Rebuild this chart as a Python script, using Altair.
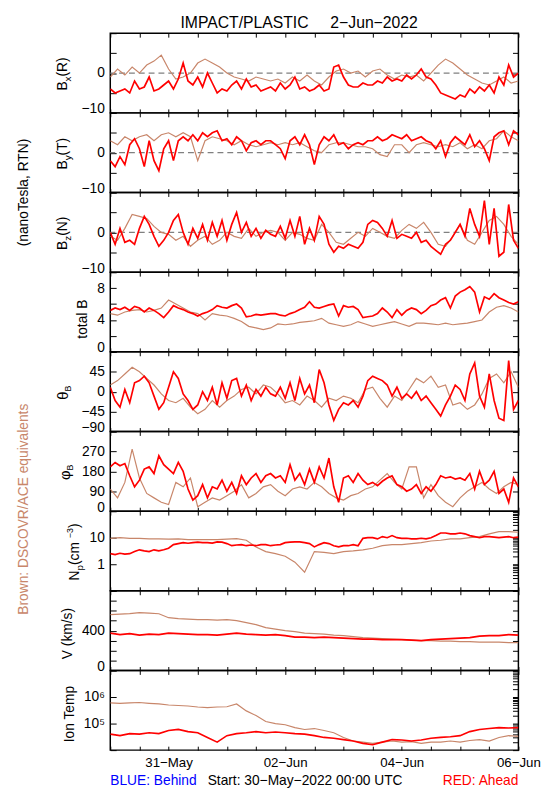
import altair as alt
import numpy as np
import pandas as pd

FONT = "Liberation Sans"
RED = "#ff0000"
BROWN = "#c8866a"
PW, PH = 415, 81

# ---------------- data ----------------
# red = STEREO-A (Ahead), 2-hour samples 30-May 00:00 .. 06-Jun 00:00
bx_red = [-4, -5, -4.5, -4, -5, -2, -4, -3.5, -1, -4.5, -4, -3, -2, -4, -1.5, 2.5, -2, -3, -1, -3.5,
          0, -2.5, -5, -4, -4.5, -3, -2, -4, -1.5, -3.5, -3, -4.5, -4, -3.5, -4.5, -2.5, -4, -3, -1, -4,
          -3.5, -4.5, -4, -3, -4.5, -4, 1.5, 2, -1, -3, -3.5, -3.5, -2.5, -3, -3, -2, -2.5, -1, -2, -1.5,
          -2, -0.5, -1.5, -0.5, 1, -1, -1.5, -3, -5, -5.5, -6, -6.5, -5.5, -6, -4, -5, -3.5, -4.5, -3, -5,
          -1, -3, 2, -1, 0]
by_red = [-2, -3.5, -1, -3, 2, 3.5, 1, -3.5, 3, -2, -4.5, 1, 3, -2, 3, 4, 3, 4.5, 3, 5,
          4, 5, 5.5, 3, 3.5, 2, 4, 3, 0.5, 2.5, 3, 2, 3, 3, 2, 1, -1.5, 3, 4, 2,
          4.5, 2, -3, 2, 4, 3, 4.5, 2, 2.5, 1, 2, 2.5, 2, 3, 3, 4, 3, 3.5, 4.5, 4,
          3.5, 4.5, 3, 3.5, 4, 3, 2.5, 1, 3, -1, 2.5, 4, 3, 2, 4.5, 1.5, 3, 1, -2, 4,
          5, 5.5, 2, 5.5, 4.5]
bz_red = [0, -3, 1, -2.5, -2, -3, 1, 4, 2, -1, -3.5, -2, 0, 3, 4.5, 0, -3, 1, -1.5, 2,
          -2, 2.5, -1, 3, -2, 2, 5, 0, 2.5, -1, 1, -1.5, 0.5, -0.5, -1, 1.5, -1.5, 3, -1, 4,
          -3, 1, -2, 4, 2, -3, -5, -3.5, -4, -3, -3.5, -4, -2.5, 2, 3, 2.5, 1, -1, 3, -1.5,
          -0.5, -1, -1.5, 0, -2.5, -2, -3.5, -4.5, -5.5, -3, -2, 0, 2, -1, 6, 2, -1, 8, -3, 6,
          -6, -5, 7, -2, -4]
bt_red = [5.2, 5.5, 5.3, 5.6, 5.2, 5.7, 5.5, 5.0, 5.5, 5.2, 4.8, 4.3, 5.0, 5.8, 5.5, 5.3, 5.0, 4.8, 4.5, 4.8,
          5.0, 5.3, 5.8, 5.6, 5.5, 5.8, 6.0, 5.5, 4.4, 4.5, 4.7, 4.6, 4.7, 4.8, 4.8, 4.6, 4.5, 4.8, 5.0, 5.3,
          5.6, 6.3, 5.6, 5.5, 5.7, 5.9, 6.0, 4.5, 5.8, 5.6, 5.7, 5.3, 4.3, 4.4, 4.5, 4.8, 5.5, 5.0, 4.3, 5.3,
          4.6, 5.2, 5.5, 5.3, 4.8, 5.2, 5.8, 6.0, 6.5, 6.8, 5.5, 7.0, 7.5, 7.8, 8.2, 7.5, 5.0, 6.9, 6.6, 7.3,
          6.8, 6.5, 6.2, 6.0, 6.3]
theta_red = [10, -20, -35, 5, -25, 20, 25, 35, 20, -10, -40, -25, 10, 45, 30, -5, -20, -40, -30, 0,
             -20, 10, -30, 20, -15, 25, 30, -10, 15, -20, 5, -10, 10, -5, -10, 10, -15, 20, -20, 30,
             -5, 15, -25, 50, 20, -30, -65, -40, -25, -30, -20, -35, -10, 25, 35, 30, 25, 15, -10, 10,
             -15, -5, -15, 0, -20, -10, -25, -40, -55, -30, -10, 15, 5, -20, 40, 65, -10, -35, 40, -20,
             -60, -65, 70, -40, -20]
phi_red = [200, 220, 205, 215, 160, 110, 140, 190, 200, 170, 250, 210, 190, 170, 220, 180, 100, 50, 70, 120,
           60, 110, 100, 140, 90, 130, 80, 160, 120, 150, 170, 130, 160, 170, 150, 160, 130, 210, 140, 170,
           120, 190, 130, 200, 150, 240, 110, 40, 150, 160, 130, 170, 140, 120, 130, 115, 135, 150, 160, 120,
           110, 90, 100, 120, 80, 110, 90, 120, 160, 150, 155, 145, 150, 140, 170, 100, 180, 120, 140, 180,
           80, 100, 40, 150, 110]
np_red = [2.5, 2.3, 2.6, 2.4, 2.5, 3.0, 3.5, 3.2, 3.0, 3.5, 3.2, 3.5, 4.0, 5.5, 6.0, 6.5, 6.2, 6.5, 6.8, 6.5,
          6.5, 6.3, 7.0, 6.8, 6.0, 5.0, 5.3, 5.5, 5.0, 5.3, 5.0, 5.5, 5.5, 5.0, 5.3, 5.5, 6.5, 6.8, 7.0, 7.0,
          6.5, 6.0, 4.5, 5.5, 6.5, 6.0, 5.0, 4.5, 5.0, 5.0, 5.5, 5.0, 9.5, 10, 10, 9.0, 11, 10, 12, 10,
          9.5, 9.5, 9.0, 9.0, 9.5, 9.0, 10, 12, 15, 15, 14, 14, 15, 14, 12, 11, 10, 11, 11, 10.5,
          10, 10.5, 11, 10, 10.5]
# red, 4-hour samples
v_red = [375, 360, 370, 355, 365, 360, 375, 370, 365, 360, 360, 355, 365, 375, 365, 360, 355, 360, 350, 335,
         335, 330, 335, 330, 325, 320, 315, 315, 310, 310, 310, 305, 300, 310, 315, 320, 325, 330, 345, 350,
         350, 360, 355]
t_red = [4.0e4, 3.5e4, 4.2e4, 4.0e4, 4.5e4, 4.2e4, 5.5e4, 6.0e4, 5.0e4, 4.5e4, 3.0e4, 2.0e4, 3.5e4, 4.2e4,
         4.5e4, 5.0e4, 4.5e4, 4.8e4, 4.5e4, 4.2e4, 4.0e4, 3.5e4, 3.0e4, 2.8e4, 2.5e4, 2.2e4, 1.8e4, 1.6e4,
         2.0e4, 2.5e4, 2.4e4, 2.2e4, 2.4e4, 2.8e4, 3.0e4, 3.2e4, 3.5e4, 5.0e4, 6.0e4, 6.5e4, 7.0e4, 6.8e4,
         7.0e4]

# brown = DSCOVR/ACE equivalents, 3-hour samples
bx_brown = [-1, 1, -0.5, 1.5, 0, 2, 3, 4.5, 1, -1.5, -1, 0, 2.5, 3.5, 2.5, 1.5, 0, -1, -1.5, -2,
            -1, -1.5, -2, -1.5, -2.5, -1, -2, -0.5, -2, -3, -1, 0.5, 1, 0, 0.5, -1, 0.5, 1, -0.5, -1.5,
            -0.5, -1, -0.5, -2, 0, 2, 3.5, 2.5, 1, -0.5, -1.5, -2.5, -3, -2, -1, -2.5, -2]
by_brown = [3, 2, 4, 3, 4, 4.5, 3, 4.5, 5, 4, 5, 4, -2, 3, 4, 3.5, 3, 2, 3, 2,
            1.5, 2, 2.5, 2, 2.5, 2, 2.5, 1.5, 0.5, 0, 2, 2.5, 2.5, 2, 1.5, 1.5, 1, -0.5, -1, 2,
            2, 0, 2, 2.5, 2, 1.5, 2, 1.5, 2.5, 1, 2, 1, 3, 3.5, 5.5, 4, 3]
bz_brown = [-1, -2, 1, 4.5, 4, 3.5, 1.5, 0, -0.5, -2, -1, -3.5, -2, -1, -3, -2, 0, -1, -1.5, 1,
            -1, 0, 0.5, 0, -2, 0, -0.5, -1.5, -2, 2, 0, -2.5, -3, -1.5, 0, -1, 1, 0, -1, -1.5,
            0.5, 2, 1, 2.5, 0, -3, -3.5, -1, 2, -2, -3, 0, 3, 4, 2, -1, -3]
bt_brown = [4.8, 4.6, 5.0, 5.2, 5.3, 5.0, 5.2, 5.5, 6.5, 6.0, 5.5, 5.0, 4.8, 4.0, 4.8, 4.6, 4.5, 4.2, 3.8, 3.2,
            3.0, 2.8, 3.0, 3.5, 3.4, 3.5, 3.7, 3.8, 3.9, 4.2, 3.6, 3.4, 3.2, 3.4, 3.8, 3.5, 3.2, 3.4, 3.6, 3.8,
            3.5, 3.2, 3.6, 3.6, 3.5, 3.4, 3.6, 3.4, 3.5, 3.6, 3.8, 4.0, 5.0, 5.6, 5.8, 5.5, 5.0]
theta_brown = [15, 25, 40, 55, 45, 30, 15, -5, -20, -25, -15, -35, -50, -40, -20, -35, -20, -10, 5, 10,
               -5, 15, 10, -5, -25, -20, -30, -10, -20, -35, -15, -20, -10, -15, -25, 5, 10, -15, -35, -10,
               -20, 5, 30, 20, 35, 10, 15, -30, -25, -40, -30, -5, 30, 40, 20, 45, 10]
phi_brown = [100, 60, 130, 280, 150, 80, 60, 40, 30, 130, 110, 150, 20, 40, 60, 50, 70, 90, 120, 60,
             80, 110, 120, 90, 70, 100, 110, 100, 130, 110, 80, 60, 50, 70, 80, 100, 110, 140, 170, 130,
             100, 200, 200, 60, 120, 70, 40, 20, 60, 90, 110, 130, 100, 80, 110, 130, 120]
# brown, 4-hour samples
np_brown = [9.5, 10, 9.5, 9.5, 9.0, 9.0, 8.8, 9.0, 8.5, 8.5, 8.5, 8.5, 8.8, 9.2, 8.0, 4.5, 3.0, 2.5, 2.0, 1.2,
            0.5, 3.0, 2.8, 2.5, 3.0, 3.2, 3.5, 4.0, 5.0, 5.5, 5.5, 6.0, 6.5, 7.5, 8.0, 9.0, 9.0, 10, 11, 14,
            17, 17, 16]
v_brown = [560, 565, 570, 580, 575, 570, 530, 520, 515, 510, 510, 505, 510, 500, 480, 460, 430, 415, 400, 390,
           375, 370, 365, 355, 350, 340, 330, 325, 320, 315, 310, 305, 300, 300, 295, 295, 290, 290, 285, 285,
           285, 280, 280]
t_brown = [6.0e5, 5.8e5, 6.0e5, 6.2e5, 5.8e5, 5.5e5, 5.0e5, 4.8e5, 4.6e5, 4.2e5, 4.0e5, 4.2e5, 4.3e5, 5.5e5,
           3.0e5, 2.0e5, 1.2e5, 1.0e5, 9.0e4, 7.0e4, 6.0e4, 6.5e4, 5.5e4, 4.5e4, 3.0e4, 2.2e4, 2.0e4, 1.8e4,
           2.0e4, 2.2e4, 2.0e4, 2.1e4, 1.8e4, 2.0e4, 2.0e4, 2.2e4, 2.0e4, 2.3e4, 2.5e4, 2.2e4, 3.0e4, 3.5e4,
           3.3e4]

# axis tick / label definitions
HOUR_TICKS = list(range(0, 169, 12))
DAY_LABELS = {24: "31−May", 72: "02−Jun", 120: "04−Jun", 168: "06−Jun"}
B_TICKS = [-10, -5, 0, 5, 10]
B_LABELS = {-10: "−10", 0: "0"}
BT_TICKS = [0, 2, 4, 6, 8, 10]
BT_LABELS = {0: "0", 4: "4", 8: "8"}
TH_TICKS = [-90, -45, 0, 45, 90]
TH_LABELS = {-90: "−90", -45: "−45", 0: "0", 45: "45"}
PH_TICKS = [0, 90, 180, 270, 360]
PH_LABELS = {0: "0", 90: "90", 180: "180", 270: "270"}
NP_MAJOR = [0.1, 1, 10, 100]
NP_MINOR = [0.1, 0.2, 0.3, 0.4, 0.5, 0.6, 0.7, 0.8, 0.9, 1, 2, 3, 4, 5, 6, 7, 8, 9,
            10, 20, 30, 40, 50, 60, 70, 80, 90, 100]
NP_LABELS = {1: "1", 10: "10"}
V_TICKS = [0, 100, 200, 300, 400, 500, 600, 700, 800]
V_LABELS = {0: "0", 400: "400"}
T_MAJOR = [10000, 100000, 1000000, 10000000]
T_MINOR = [10000, 20000, 30000, 40000, 50000, 60000, 70000, 80000, 90000,
           100000, 200000, 300000, 400000, 500000, 600000, 700000, 800000, 900000,
           1000000, 2000000, 3000000, 4000000, 5000000, 6000000, 7000000, 8000000, 9000000, 10000000]
T_LABELS = {100000: "10⁵", 1000000: "10⁶"}

TITLE = "IMPACT/PLASTIC\u00a0\u00a0\u00a0\u00a0\u00a02−Jun−2022"

# ---------------- helpers ----------------
ONE = pd.DataFrame({"a": [0]})
CW = {"B": 0.667, "x": 0.5, "y": 0.5, "z": 0.5, "(": 0.333, ")": 0.333, "R": 0.722, "T": 0.611,
      "N": 0.722, "p": 0.556, " ": 0.278, "c": 0.5, "m": 0.833, "−": 0.584, "3": 0.556,
      "θ": 0.556, "φ": 0.65}


def tw(s, size):
    return sum(CW.get(c, 0.556) for c in s) * size


def label_expr(mapping):
    expr = "''"
    for k, s in reversed(list(mapping.items())):
        expr = f"datum.value == {k} ? '{s}' : {expr}"
    return expr


def df_of(vals):
    return pd.DataFrame({"h": np.linspace(0, 168, len(vals)), "v": vals})


def txt(s, x, y, size=14, color="black", angle=None, align="center", baseline="middle", dx=0, dy=0):
    kw = dict(text=s, font=FONT, fontSize=size, color=color, align=align, baseline=baseline)
    if angle is not None:
        kw["angle"] = angle
    if dx:
        kw["dx"] = dx
    if dy:
        kw["dy"] = dy
    return alt.Chart(ONE).mark_text(**kw).encode(x=alt.value(x), y=alt.value(y))


def rot_title(pieces, tx, ty):
    total = sum(tw(t, sz) for t, sz, _ in pieces)
    pos = -total / 2
    out = []
    for t, sz, dy in pieces:
        out.append(txt(t, tx, ty, size=sz, angle=270, align="left", dx=pos, dy=dy))
        pos += tw(t, sz)
    return out


def make_panel(red, brown, domain, left_ticks, right_ticks, labels, title_pieces, title_x,
               log=False, zero_line=False, bottom=False, extras=()):
    xs = alt.Scale(domain=[0, 168], nice=False, zero=False)
    if log:
        ys = alt.Scale(type="log", domain=domain, nice=False)
    else:
        ys = alt.Scale(domain=domain, nice=False, zero=False)
    ax_left = alt.Axis(orient="left", values=left_ticks, labelExpr=label_expr(labels), tickSize=6,
                       offset=-6, labelPadding=6, labelFlush=True, labelFlushOffset=3,
                       labelOverlap=False, title=None, domain=False, grid=False)
    ax_right = alt.Axis(orient="right", values=right_ticks, labels=False, tickSize=6, offset=-6,
                        title=None, domain=False, grid=False)
    ax_bottom = alt.Axis(orient="bottom", values=HOUR_TICKS, tickSize=4, offset=-4, title=None,
                         domain=False, grid=False, labels=bottom, labelExpr=label_expr(DAY_LABELS),
                         labelPadding=6, labelOverlap=False, labelFlush=False, labelFontSize=13.5)
    ax_top = alt.Axis(orient="top", values=HOUR_TICKS, tickSize=4, offset=-4, labels=False,
                      title=None, domain=False, grid=False)
    layers = []
    if zero_line:
        layers.append(
            alt.Chart(pd.DataFrame({"v": [0]}))
            .mark_rule(color="#808080", strokeDash=[6, 4], strokeWidth=1.2)
            .encode(y=alt.Y("v:Q", scale=ys, axis=None))
        )
    layers.append(
        alt.Chart(df_of(brown)).mark_line(color=BROWN, strokeWidth=1.2, clip=True)
        .encode(x=alt.X("h:Q", scale=xs, axis=ax_bottom), y=alt.Y("v:Q", scale=ys, axis=ax_left))
    )
    layers.append(
        alt.Chart(df_of(red)).mark_line(color=RED, strokeWidth=1.7, clip=True)
        .encode(x=alt.X("h:Q", scale=xs, axis=ax_top), y=alt.Y("v:Q", scale=ys, axis=ax_right))
    )
    layers += rot_title(title_pieces, title_x, PH / 2 + 1)
    layers += list(extras)
    return (alt.layer(*layers)
            .resolve_axis(x="independent", y="independent")
            .properties(width=PW, height=PH))


panels = [
    make_panel(bx_red, bx_brown, [-10, 10], B_TICKS, B_TICKS, B_LABELS,
               [("B", 14, 0), ("x", 10, 5), ("(R)", 14, 0)], -48, zero_line=True,
               extras=[txt(TITLE, 192, -10, size=16)]),
    make_panel(by_red, by_brown, [-10, 10], B_TICKS, B_TICKS, B_LABELS,
               [("B", 14, 0), ("y", 10, 5), ("(T)", 14, 0)], -48, zero_line=True,
               extras=[txt("(nanoTesla, RTN)", -88, PH, size=14, angle=270)]),
    make_panel(bz_red, bz_brown, [-10, 10], B_TICKS, B_TICKS, B_LABELS,
               [("B", 14, 0), ("z", 10, 5), ("(N)", 14, 0)], -48, zero_line=True),
    make_panel(bt_red, bt_brown, [0, 10], BT_TICKS, BT_TICKS, BT_LABELS,
               [("total B", 14, 0)], -28),
    make_panel(theta_red, theta_brown, [-90, 90], TH_TICKS, TH_TICKS, TH_LABELS,
               [("θ", 15, 0), ("B", 9, 5)], -48),
    make_panel(phi_red, phi_brown, [0, 360], PH_TICKS, PH_TICKS, PH_LABELS,
               [("φ", 15, 0), ("B", 9, 5)], -46,
               extras=[txt("Brown: DSCOVR/ACE equivalents", -88, 79, size=14, color=BROWN, angle=270)]),
    make_panel(np_red, np_brown, [0.1, 100], NP_MAJOR, NP_MINOR, NP_LABELS,
               [("N", 14, 0), ("p", 10, 5), (" (cm", 14, 0), ("−3", 9, -5), (")", 14, 0)], -36,
               log=True),
    make_panel(v_red, v_brown, [0, 800], V_TICKS, V_TICKS, V_LABELS,
               [("V (km/s)", 14, 0)], -43),
    make_panel(t_red, t_brown, [1e4, 1e7], T_MAJOR, T_MINOR, T_LABELS,
               [("Ion Temp", 14, 0)], -41, log=True, bottom=True,
               extras=[txt("BLUE: Behind", 0, PH + 31, size=14, color="#0000ff", align="left"),
                       txt("Start: 30−May−2022 00:00 UTC", 99, PH + 31, size=14, align="left"),
                       txt("RED: Ahead", PW, PH + 31, size=14, color=RED, align="right")]),
]

chart = (
    alt.vconcat(*panels, spacing=0, bounds="flush")
    .properties(padding={"left": 8, "right": 0, "top": 0, "bottom": 0})
    .configure_view(stroke="black", strokeWidth=1.5)
    .configure_axis(labelFont=FONT, labelFontSize=14, labelColor="black", tickColor="black", tickWidth=1)
)

chart.save("out.html", embed_options={"renderer": "svg", "actions": False})
